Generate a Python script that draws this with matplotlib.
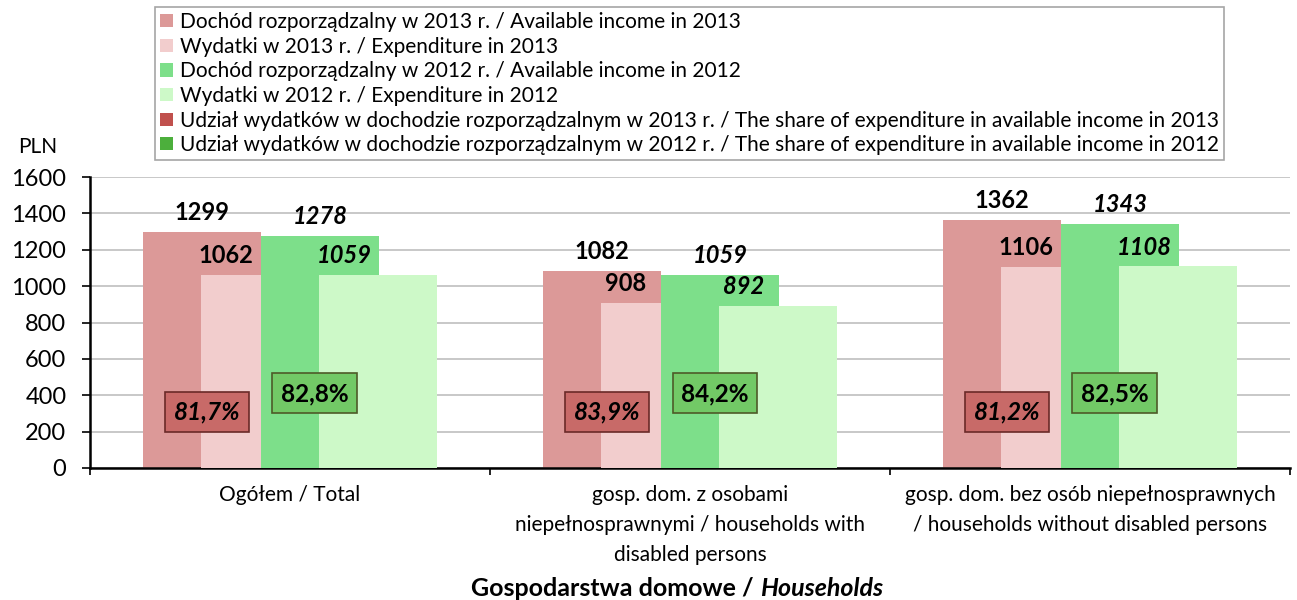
import matplotlib
matplotlib.use("Agg")
import matplotlib.pyplot as plt
from matplotlib.patches import Patch

# ============================================================================
# DATA
# ============================================================================

categories = [
    "Ogółem / Total",
    "gosp. dom. z osobami\nniepełnosprawnymi / households with\ndisabled persons",
    "gosp. dom. bez osób niepełnosprawnych\n/ households without disabled persons",
]
income_2013 = [1299, 1082, 1362]
expenditure_2013 = [1062, 908, 1106]
income_2012 = [1278, 1059, 1343]
expenditure_2012 = [1059, 892, 1108]
share_2013 = [81.7, 83.9, 81.2]
share_2012 = [82.8, 84.2, 82.5]

series_labels = [
    "Dochód rozporządzalny w 2013 r. / Available income in 2013",
    "Wydatki w 2013 r. / Expenditure in 2013",
    "Dochód rozporządzalny w 2012 r. / Available income in 2012",
    "Wydatki w 2012 r. / Expenditure in 2012",
]
share_labels = [
    "Udział wydatków w dochodzie rozporządzalnym w 2013 r. / The share of expenditure in available income in 2013",
    "Udział wydatków w dochodzie rozporządzalnym w 2012 r. / The share of expenditure in available income in 2012",
]

# ============================================================================
# STYLE
# ============================================================================

plt.rcParams['font.family'] = ['Lato', 'DejaVu Sans']

W, H = 1297, 600
BAR_WIDTH = 0.295
OFFSETS = [-0.22, -0.075, 0.075, 0.22]
BAR_COLORS = ['#DC9998', '#F2CDCD', '#7DDF8A', '#CDF9C8']
SHARE_COLORS = ['#C0504D', '#4CAF3C']
BOX_FILL = ['#C86A68', '#72C966']
BOX_EDGE = ['#6A2A28', '#4E5A28']

VALUE_SIZE = 17
BOX_SIZE = 17.5
TICK_SIZE = 17
CAT_SIZE = 15
LEGEND_SIZE = 15


def fmt_share(v):
    return f"{v:.1f}%".replace('.', ',')


fig = plt.figure(figsize=(W / 100, H / 100), dpi=100)
ax = fig.add_axes([90 / W, 132 / H, 1200 / W, 291 / H])

x = list(range(len(categories)))
series = [income_2013, expenditure_2013, income_2012, expenditure_2012]

handles = []
for i, (values, color, label) in enumerate(zip(series, BAR_COLORS, series_labels)):
    pos = [c + OFFSETS[i] for c in x]
    bars = ax.bar(pos, values, width=BAR_WIDTH, color=color, label=label,
                  zorder=2 + i, linewidth=0)
    handles.append(bars)

    # value labels: 2013 upright, 2012 italic; expenditure labels sit left of bar centre
    style = 'normal' if i < 2 else 'italic'
    dx = 0 if i % 2 == 0 else -0.085
    for p, v in zip(pos, values):
        ax.annotate(str(v), (p + dx, v), xytext=(0, 14), textcoords='offset points',
                    ha='center', va='center', fontsize=VALUE_SIZE,
                    fontweight='bold', fontstyle=style, zorder=10)

# share boxes
for c, s13, s12 in zip(x, share_2013, share_2012):
    ax.text(c - 0.207, 310, fmt_share(s13), ha='center', va='center',
            fontsize=BOX_SIZE, fontweight='bold', fontstyle='italic', zorder=12,
            bbox=dict(boxstyle='square,pad=0.35', facecolor=BOX_FILL[0],
                      edgecolor=BOX_EDGE[0], linewidth=1.2))
    ax.text(c + 0.062, 410, fmt_share(s12), ha='center', va='center',
            fontsize=BOX_SIZE, fontweight='bold', zorder=12,
            bbox=dict(boxstyle='square,pad=0.35', facecolor=BOX_FILL[1],
                      edgecolor=BOX_EDGE[1], linewidth=1.2))

# axes
ax.set_xlim(-0.5, len(categories) - 0.5)
ax.set_ylim(0, 1600)
ax.set_yticks(range(0, 1601, 200))
ax.set_xticks(x)
ax.set_xticklabels(categories, fontsize=CAT_SIZE, linespacing=1.62)
ax.set_xticks([c - 0.5 for c in range(len(categories) + 1)], minor=True)
ax.tick_params(axis='x', which='major', length=0, pad=12)
ax.tick_params(axis='x', which='minor', length=5, width=1.2, direction='out')
ax.tick_params(axis='y', length=6, width=1.2, direction='out', labelsize=TICK_SIZE, pad=11)

ax.yaxis.grid(True, color='#BFBFBF', linewidth=1.2)
ax.set_axisbelow(True)
for side in ['top', 'right']:
    ax.spines[side].set_visible(False)
for side in ['left', 'bottom']:
    ax.spines[side].set_linewidth(1.8)

# legend
for col, lab in zip(SHARE_COLORS, share_labels):
    handles.append(Patch(facecolor=col, label=lab))
leg = ax.legend(handles=handles, loc='upper left',
                bbox_to_anchor=(155 / W, 1 - 7 / H), bbox_transform=fig.transFigure,
                frameon=True, fancybox=False, edgecolor='#A6A6A6', framealpha=1,
                fontsize=LEGEND_SIZE, handlelength=0.6, handleheight=0.6,
                handletextpad=0.35, labelspacing=0.22, borderpad=0.25, borderaxespad=0)
leg.get_frame().set_linewidth(1.2)

fig.text(38 / W, 1 - 147 / H, "PLN", ha='center', va='center', fontsize=15)

# x axis title: bold part + bold italic part
fig.canvas.draw()
renderer = fig.canvas.get_renderer()
t1 = fig.text(0, 12 / H, "Gospodarstwa domowe / ", ha='left', va='center',
              fontsize=18, fontweight='bold')
t2 = fig.text(0, 12 / H, "Households", ha='left', va='center',
              fontsize=18, fontweight='bold', fontstyle='italic')
w1 = t1.get_window_extent(renderer).width
w2 = t2.get_window_extent(renderer).width
start = 677 - (w1 + w2) / 2
t1.set_x(start / W)
t2.set_x((start + w1) / W)

fig.savefig("out.png", dpi=100)
